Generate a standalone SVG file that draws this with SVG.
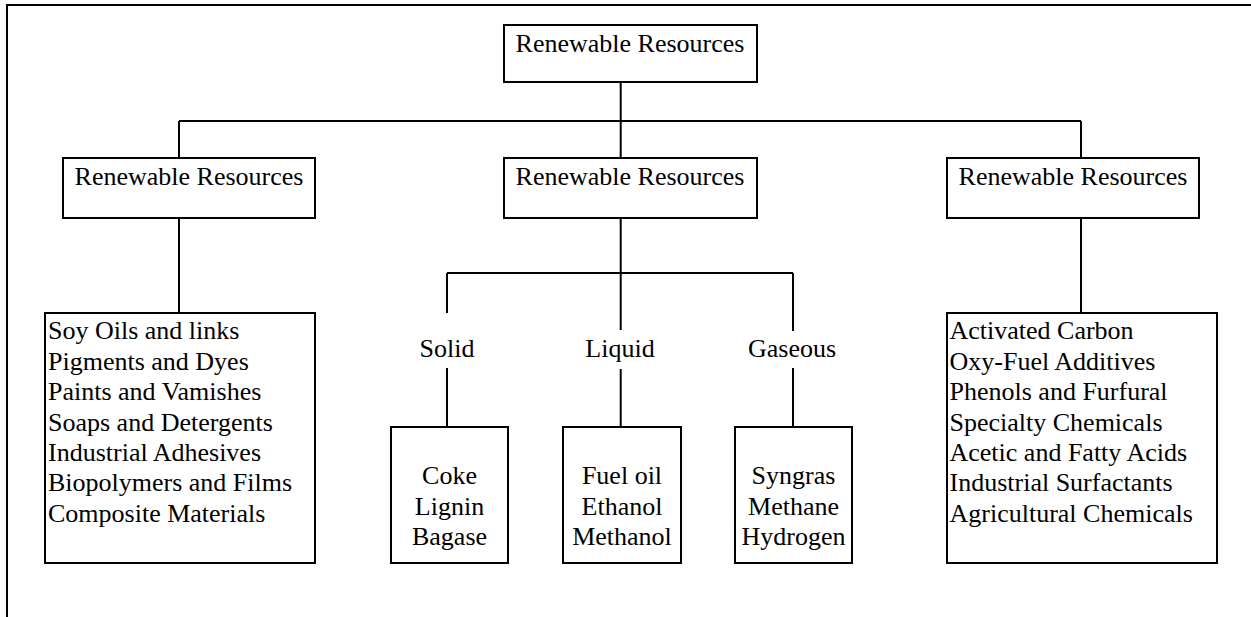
<svg xmlns="http://www.w3.org/2000/svg" width="1251" height="617" viewBox="0 0 1251 617">
<style>
.box{fill:#fff;stroke:#000;stroke-width:2}
.ln{fill:none;stroke:#000;stroke-width:2}
text{font-family:"Liberation Serif","Times New Roman",serif;font-size:26px;fill:#000}
.c{text-anchor:middle}
</style>
<rect x="0" y="0" width="1251" height="617" fill="#fff"/>
<path class="ln" d="M7 617 V5 H1251"/>
<g id="connectors">
<path class="ln" d="M620.7 82 V121 M179 121 H1081 M179 121 V158 M620.7 121 V158 M1081 121 V158"/>
<path class="ln" d="M179 218 V313"/>
<path class="ln" d="M1081 218 V313"/>
<path class="ln" d="M620.7 218 V330 M447 273 H793 M447 273 V313 M793 273 V331"/>
<path class="ln" d="M447 368 V427 M620.7 369 V427 M793 368 V427"/>
</g>
<g id="root">
<rect class="box" x="504" y="25" width="253" height="57"/>
<text class="c" x="630" y="52">Renewable Resources</text>
</g>
<g id="mid-left">
<rect class="box" x="63" y="158" width="252" height="60"/>
<text class="c" x="189" y="185">Renewable Resources</text>
</g>
<g id="mid-center">
<rect class="box" x="504" y="158" width="253" height="60"/>
<text class="c" x="630" y="185">Renewable Resources</text>
</g>
<g id="mid-right">
<rect class="box" x="947" y="158" width="252" height="60"/>
<text class="c" x="1073" y="185">Renewable Resources</text>
</g>
<g id="list-left">
<rect class="box" x="45" y="313" width="270" height="250"/>
<text x="48" y="339">Soy Oils and links</text>
<text x="48" y="369.5">Pigments and Dyes</text>
<text x="48" y="400">Paints and Vamishes</text>
<text x="48" y="430.5">Soaps and Detergents</text>
<text x="48" y="461">Industrial Adhesives</text>
<text x="48" y="491">Biopolymers and Films</text>
<text x="48" y="521.5">Composite Materials</text>
</g>
<g id="label-solid"><text class="c" x="447" y="357">Solid</text></g>
<g id="label-liquid"><text class="c" x="620" y="357">Liquid</text></g>
<g id="label-gaseous"><text class="c" x="792" y="357">Gaseous</text></g>
<g id="solid">
<rect class="box" x="391" y="427" width="117" height="136"/>
<text class="c" x="449.5" y="484">Coke</text>
<text class="c" x="449.5" y="514.5">Lignin</text>
<text class="c" x="449.5" y="545">Bagase</text>
</g>
<g id="liquid">
<rect class="box" x="563" y="427" width="118" height="136"/>
<text class="c" x="622" y="484">Fuel oil</text>
<text class="c" x="622" y="514.5">Ethanol</text>
<text class="c" x="622" y="545">Methanol</text>
</g>
<g id="gaseous">
<rect class="box" x="735" y="427" width="117" height="136"/>
<text class="c" x="793.5" y="484">Syngras</text>
<text class="c" x="793.5" y="514.5">Methane</text>
<text class="c" x="793.5" y="545">Hydrogen</text>
</g>
<g id="list-right">
<rect class="box" x="947" y="313" width="270" height="250"/>
<text x="949.5" y="339">Activated Carbon</text>
<text x="949.5" y="369.5">Oxy-Fuel Additives</text>
<text x="949.5" y="400">Phenols and Furfural</text>
<text x="949.5" y="430.5">Specialty Chemicals</text>
<text x="949.5" y="461">Acetic and Fatty Acids</text>
<text x="949.5" y="491">Industrial Surfactants</text>
<text x="949.5" y="521.5">Agricultural Chemicals</text>
</g>
</svg>
